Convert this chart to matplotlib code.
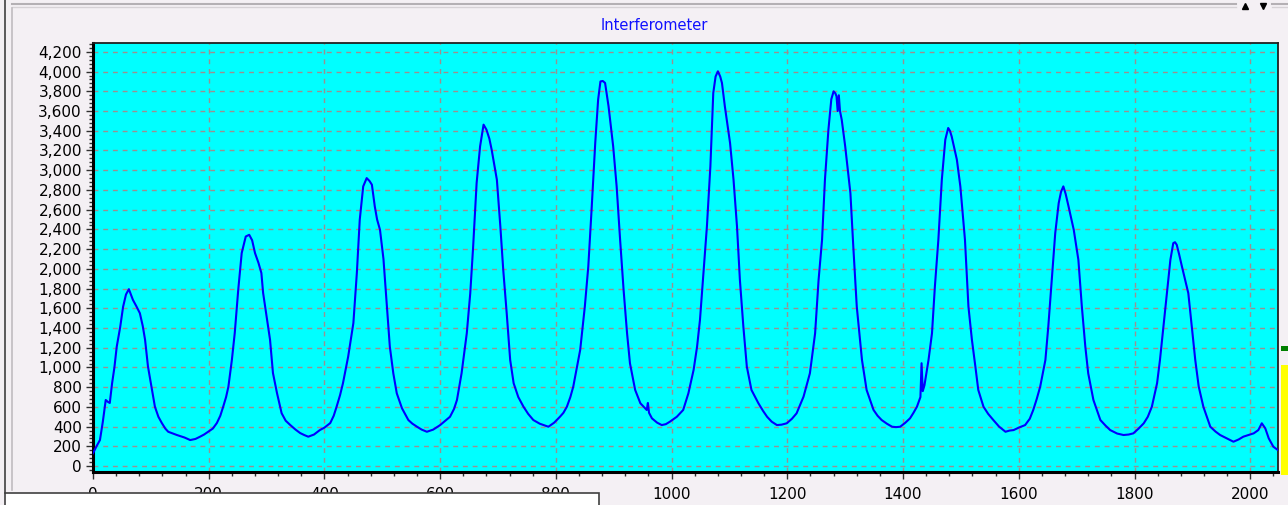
import matplotlib.pyplot as plt
from matplotlib.patches import Rectangle
from matplotlib.ticker import MultipleLocator, StrMethodFormatter

# interferometer trace
x_pos = [0, 6, 12, 17, 22, 26, 29, 33, 37, 41, 47, 52, 57, 62, 69, 75, 81, 86, 90, 95,
         101, 107, 113, 119, 125, 130, 145, 158, 168, 177, 185, 192, 199, 207, 214, 220,
         225, 230, 234, 240, 245, 251, 257, 264, 270, 275, 280, 286, 291, 294, 300, 306,
         311, 318, 326, 333, 341, 350, 358, 365, 372, 382, 392, 400, 410, 416, 421, 427,
         432, 441, 446, 450, 453, 456, 461, 467, 473, 478, 482, 487, 491, 496, 502, 508,
         513, 519, 525, 534, 545, 552, 560, 568, 577, 588, 600, 608, 617, 624, 629, 637,
         646, 652, 657, 663, 669, 675, 680, 685, 689, 698, 704, 709, 715, 721, 727, 735,
         744, 752, 761, 772, 787, 797, 807, 813, 819, 825, 830, 842, 850, 856, 862, 868,
         873, 877, 881, 885, 891, 899, 905, 911, 917, 923, 928, 937, 946, 952, 957, 959,
         961, 966, 975, 983, 990, 997, 1009, 1020, 1029, 1038, 1044, 1049, 1055, 1061,
         1067, 1072, 1076, 1080, 1084, 1087, 1092, 1101, 1107, 1113, 1118, 1124, 1130,
         1138, 1150, 1158, 1165, 1173, 1182, 1190, 1199, 1208, 1216, 1228, 1239, 1248,
         1254, 1260, 1265, 1271, 1276, 1280, 1283, 1285, 1287, 1289, 1291, 1294, 1300,
         1309, 1314, 1320, 1329, 1337, 1349, 1356, 1363, 1372, 1381, 1388, 1395, 1404,
         1412, 1418, 1424, 1430, 1432, 1434, 1437, 1444, 1450, 1455, 1461, 1467, 1473,
         1478, 1481, 1484, 1493, 1499, 1504, 1507, 1513, 1519, 1525, 1530, 1539, 1547,
         1556, 1566, 1577, 1584, 1591, 1600, 1611, 1619, 1625, 1631, 1637, 1646, 1651,
         1657, 1663, 1669, 1673, 1677, 1681, 1686, 1695, 1703, 1709, 1715, 1720, 1729,
         1741, 1750, 1758, 1770, 1781, 1790, 1798, 1807, 1816, 1823, 1830, 1839, 1844,
         1850, 1856, 1862, 1867, 1870, 1873, 1877, 1882, 1893, 1899, 1905, 1911, 1919,
         1931, 1940, 1948, 1960, 1971, 1980, 1988, 2006, 2014, 2020, 2026, 2032, 2040,
         2048]
signal = [130, 200, 264, 450, 670, 650, 640, 840, 1000, 1210, 1410, 1615, 1740, 1794,
          1685, 1620, 1550, 1420, 1280, 1010, 805, 602, 500, 436, 380, 348, 315, 290, 264,
          275, 298, 320, 348, 380, 436, 510, 602, 700, 805, 1076, 1350, 1787, 2160, 2328,
          2345, 2290, 2160, 2060, 1958, 1756, 1516, 1280, 944, 740, 536, 460, 416, 370,
          335, 315, 298, 320, 365, 390, 436, 510, 602, 720, 840, 1110, 1300, 1450, 1700,
          1958, 2497, 2836, 2920, 2890, 2853, 2633, 2500, 2396, 2100, 1617, 1211, 941, 738,
          586, 467, 430, 399, 370, 348, 370, 416, 455, 500, 580, 670, 941, 1347, 1753,
          2226, 2870, 3242, 3462, 3411, 3320, 3208, 2904, 2430, 1990, 1550, 1076, 840, 700,
          602, 530, 467, 430, 399, 440, 500, 540, 602, 700, 805, 1178, 1617, 2023, 2633,
          3276, 3716, 3900, 3905, 3885, 3648, 3242, 2836, 2294, 1787, 1347, 1043, 772, 637,
          600, 569, 640, 540, 484, 440, 416, 425, 450, 500, 569, 738, 975, 1211, 1482,
          1956, 2430, 3039, 3784, 3950, 4003, 3950, 3885, 3648, 3276, 2904, 2430, 1888,
          1414, 1008, 772, 637, 560, 500, 450, 416, 420, 434, 480, 535, 704, 941, 1347,
          1888, 2294, 2904, 3411, 3720, 3800, 3780, 3749, 3600, 3760, 3600, 3512, 3242,
          2768, 2226, 1617, 1076, 772, 569, 510, 467, 430, 399, 395, 399, 440, 484, 540,
          602, 700, 1043, 760, 820, 1076, 1347, 1820, 2294, 2904, 3310, 3428, 3400, 3343,
          3107, 2836, 2500, 2294, 1617, 1280, 1008, 772, 602, 530, 467, 400, 348, 360, 365,
          390, 416, 480, 569, 680, 805, 1076, 1414, 1888, 2362, 2667, 2780, 2836, 2760,
          2633, 2396, 2091, 1617, 1211, 941, 670, 467, 410, 365, 330, 315, 320, 332, 380,
          434, 500, 602, 840, 1076, 1414, 1753, 2091, 2261, 2270, 2244, 2150, 2023, 1753,
          1414, 1076, 805, 602, 399, 350, 315, 280, 247, 270, 298, 332, 365, 434, 383, 281,
          196, 162]

title = 'Interferometer'

W, H = 1288, 505
fig = plt.figure(figsize=(W / 100, H / 100), dpi=100, facecolor='#f4f0f4')
ax = fig.add_axes([93 / W, 1 - 472 / H, (1278 - 93) / W, (472 - 43) / H])
ax.set_facecolor('#00ffff')

ax.plot(x_pos, signal, color='#0000ff', lw=1.5, zorder=3)

ax.set_xlim(0, 2048)
ax.set_ylim(-60, 4290)
ax.xaxis.set_major_locator(MultipleLocator(200))
ax.xaxis.set_minor_locator(MultipleLocator(40))
ax.yaxis.set_major_locator(MultipleLocator(200))
ax.yaxis.set_minor_locator(MultipleLocator(40))
ax.yaxis.set_major_formatter(StrMethodFormatter('{x:,.0f}'))
ax.tick_params(which='both', direction='out', color='#303030', labelsize=11)
ax.tick_params(which='major', length=5, width=1)
ax.tick_params(which='minor', length=3, width=1)
ax.tick_params(axis='x', pad=6)
ax.tick_params(axis='y', pad=3)
ax.grid(True, which='major', color='#9a9090', lw=1, ls=(0, (3.5, 3.5)))

for side in ['left', 'bottom']:
    ax.spines[side].set_linewidth(2.2)
    ax.spines[side].set_color('black')
for side in ['top', 'right']:
    ax.spines[side].set_linewidth(1.3)
    ax.spines[side].set_color('#202020')

fig.text(654 / W, 1 - 25 / H, title, color='#1010ff', fontsize=10.5,
         ha='center', va='center')

# window decorations around the chart, in pixel coordinates
deco = fig.add_axes([0, 0, 1, 1], zorder=10)
deco.set_xlim(0, W)
deco.set_ylim(H, 0)
deco.axis('off')
deco.patch.set_alpha(0)
deco.plot([12, 1236], [4, 4], color='#b4b0b4', lw=1.5)
deco.plot([12, 1236], [7, 7], color='#d6d2d6', lw=1)
deco.plot([1272, 1288], [4, 4], color='#b4b0b4', lw=1.5)
deco.plot([1272, 1288], [7, 7], color='#d6d2d6', lw=1)
deco.plot([1245], [6], marker='^', color='black', ms=4)
deco.plot([1263], [6], marker='v', color='black', ms=4)
deco.plot([5, 5], [0, 493], color='#404040', lw=1.2)
deco.plot([12, 12], [8, 490], color='#c0bcc0', lw=1.2)
deco.add_patch(Rectangle((5, 493), 594, 20, facecolor='white', edgecolor='#404040', lw=1.2))
deco.add_patch(Rectangle((1281, 365), 8, 110, facecolor='#ffff00', edgecolor='none'))
deco.add_patch(Rectangle((1281, 346), 8, 5, facecolor='#008000', edgecolor='none'))

fig.savefig('out.png', dpi=100, facecolor=fig.get_facecolor())
